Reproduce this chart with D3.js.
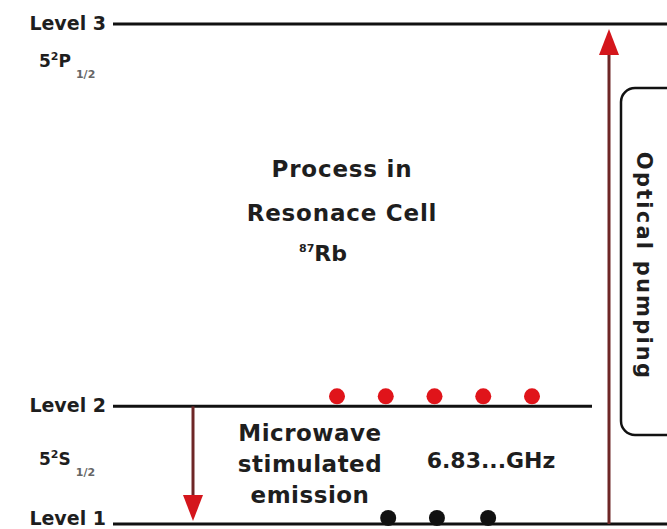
<!DOCTYPE html>
<html lang="en">
<head>
  <meta charset="UTF-8">
  <title>Rb resonance cell levels</title>
  <script src="https://d3js.org/d3.v7.min.js"></script>
  <style>
    body { margin: 0; background: #fff; }
    text { font-family: "DejaVu Sans", sans-serif; font-weight: bold; fill: #1e1e1e; }
  </style>
</head>
<body>
  <svg width="667" height="529"></svg>

  <script>
    // energy levels (arbitrary units)
    const levelNames = ["Level 1", "Level 2", "Level 3"];
    const levelEnergy = [0, 1, 4.25];
    const stateMain = ["", "5", "5"];
    const stateSup = ["", "2", "2"];
    const stateLetter = ["", "S", "P"];
    const stateSub = ["", "1/2", "1/2"];

    // atoms sitting on the levels (slot index along the level)
    const upperAtoms = [0, 1, 2, 3, 4];
    const lowerAtoms = [1.05, 2.05, 3.1];

    const centerLines = ["Process in", "Resonace Cell"];
    const isotope = ["87", "Rb"];
    const emissionLines = ["Microwave", "stimulated", "emission"];
    const freqLabel = "6.83...GHz";
    const pumpLabel = "Optical pumping";

    const width = 667, height = 529;
    const svg = d3.select("svg");

    const y = d3.scaleLinear()
      .domain([0, 4.25])
      .range([524, 24]);

    const slot = d3.scaleLinear()
      .domain([0, 4])
      .range([337, 532]);

    // level lines
    const lineEnd = [667, 592, 667];
    svg.selectAll(".level")
      .data(levelEnergy)
      .enter()
      .append("line")
      .attr("x1", 113)
      .attr("x2", (d, i) => lineEnd[i])
      .attr("y1", d => y(d))
      .attr("y2", d => y(d))
      .attr("stroke", "#111")
      .attr("stroke-width", 3);

    // level labels
    svg.selectAll(".lvlLabel")
      .data(levelNames)
      .enter()
      .append("text")
      .attr("x", 106)
      .attr("y", (d, i) => Math.min(y(levelEnergy[i]) + 6, 525))
      .attr("text-anchor", "end")
      .attr("font-size", 19)
      .text(d => d);

    // state term labels
    [1, 2].forEach(i => {
      const t = svg.append("text")
        .attr("x", 39)
        .attr("y", y(levelEnergy[i]) + (i === 2 ? 43 : 59))
        .attr("font-size", 17);
      t.append("tspan").text(stateMain[i]);
      t.append("tspan").attr("font-size", 11).attr("dy", -7).text(stateSup[i]);
      t.append("tspan").attr("dy", 7).text(stateLetter[i]);
      t.append("tspan").attr("font-size", 11).attr("dy", 11).attr("dx", 5)
        .style("fill", "#666").text(stateSub[i]);
    });

    // central caption
    svg.selectAll(".cap")
      .data(centerLines)
      .enter()
      .append("text")
      .attr("x", 342)
      .attr("y", (d, i) => 177 + i * 44)
      .attr("text-anchor", "middle")
      .attr("font-size", 23)
      .attr("letter-spacing", 0.8)
      .text(d => d);

    const rb = svg.append("text")
      .attr("x", 299)
      .attr("y", 261)
      .attr("font-size", 22);
    rb.append("tspan").attr("font-size", 11).attr("dy", -9).text(isotope[0]);
    rb.append("tspan").attr("dy", 9).text(isotope[1]);

    // microwave caption
    svg.selectAll(".mw")
      .data(emissionLines)
      .enter()
      .append("text")
      .attr("x", 310)
      .attr("y", (d, i) => 441 + i * 31)
      .attr("text-anchor", "middle")
      .attr("font-size", 23)
      .attr("letter-spacing", 0.5)
      .text(d => d);

    svg.append("text")
      .attr("x", 491)
      .attr("y", 468)
      .attr("text-anchor", "middle")
      .attr("font-size", 22)
      .text(freqLabel);

    // arrows
    function arrow(x, yFrom, yTo) {
      const dir = yTo > yFrom ? 1 : -1;
      svg.append("line")
        .attr("x1", x).attr("x2", x)
        .attr("y1", yFrom).attr("y2", yTo - dir * 20)
        .attr("stroke", "#6e2626")
        .attr("stroke-width", 3);
      svg.append("path")
        .attr("d", `M${x - 10},${yTo - dir * 26} L${x + 10},${yTo - dir * 26} L${x},${yTo} Z`)
        .attr("fill", "#d4161c");
    }
    arrow(193, y(levelEnergy[1]), y(levelEnergy[0]) - 3);
    arrow(609, y(levelEnergy[0]), y(levelEnergy[2]) + 5);

    // atoms
    svg.selectAll(".up")
      .data(upperAtoms)
      .enter()
      .append("circle")
      .attr("cx", d => slot(d))
      .attr("cy", y(levelEnergy[1]) - 10)
      .attr("r", 8)
      .attr("fill", "#e0141a");

    svg.selectAll(".low")
      .data(lowerAtoms)
      .enter()
      .append("circle")
      .attr("cx", d => slot(d))
      .attr("cy", y(levelEnergy[0]) - 6)
      .attr("r", 8)
      .attr("fill", "#111");

    // optical pumping bracket
    svg.append("rect")
      .attr("x", 621)
      .attr("y", 88)
      .attr("width", 80)
      .attr("height", 347)
      .attr("rx", 14)
      .attr("fill", "none")
      .attr("stroke", "#111")
      .attr("stroke-width", 2.5);

    svg.append("text")
      .attr("transform", "translate(637,266) rotate(90)")
      .attr("text-anchor", "middle")
      .attr("font-size", 21)
      .attr("letter-spacing", 2.2)
      .text(pumpLabel);
  </script>
</body>
</html>
